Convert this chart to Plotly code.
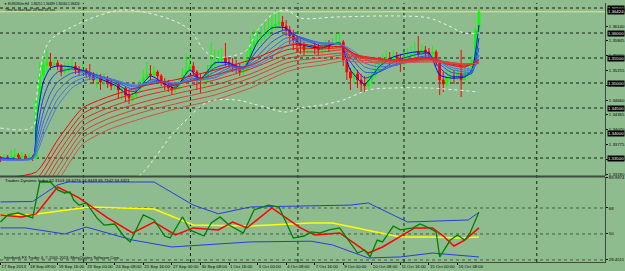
import plotly.graph_objects as go

# ---------------- data ----------------
bar_index = list(range(135))
open0 = 1.3350
close = [1.3346,1.3352,1.3348,1.3354,1.3356,1.3352,1.3354,1.3350,1.3352,1.3350,
 1.3466,1.3516,1.3536,1.3542,1.3534,1.3540,1.3534,1.3522,1.3526,1.3530,
 1.3534,1.3526,1.3522,1.3526,1.3518,1.3514,1.3506,1.3510,1.3502,1.3506,
 1.3498,1.3494,1.3498,1.3486,1.3490,1.3476,1.3470,1.3474,1.3486,1.3496,
 1.3510,1.3518,1.3516,1.3522,1.3514,1.3502,1.3496,1.3490,1.3486,1.3490,
 1.3502,1.3516,1.3526,1.3534,1.3522,1.3510,1.3506,1.3510,1.3522,1.3536,
 1.3542,1.3546,1.3550,1.3542,1.3538,1.3534,1.3530,1.3522,1.3526,1.3546,
 1.3570,1.3582,1.3586,1.3594,1.3598,1.3606,1.3614,1.3618,1.3622,1.3614,
 1.3606,1.3594,1.3586,1.3578,1.3574,1.3566,1.3570,1.3574,1.3570,1.3566,
 1.3570,1.3574,1.3572,1.3574,1.3578,1.3582,1.3546,1.3522,1.3510,1.3518,
 1.3506,1.3498,1.3494,1.3506,1.3516,1.3526,1.3536,1.3546,1.3550,1.3546,
 1.3554,1.3550,1.3538,1.3550,1.3554,1.3558,1.3562,1.3558,1.3566,1.3562,
 1.3558,1.3562,1.3542,1.3506,1.3498,1.3510,1.3514,1.3510,1.3518,1.3506,
 1.3518,1.3522,1.3546,1.3606,1.3642]
high = [1.3354,1.3358,1.3356,1.3366,1.3370,1.3360,1.3362,1.3358,1.3360,1.3356,
 1.3470,1.3542,1.3556,1.3566,1.3560,1.3550,1.3546,1.3538,1.3542,1.3542,
 1.3550,1.3542,1.3534,1.3538,1.3530,1.3538,1.3522,1.3522,1.3518,1.3520,
 1.3514,1.3506,1.3506,1.3502,1.3502,1.3494,1.3486,1.3482,1.3490,1.3506,
 1.3526,1.3542,1.3536,1.3534,1.3526,1.3518,1.3510,1.3506,1.3498,1.3498,
 1.3510,1.3530,1.3556,1.3554,1.3542,1.3526,1.3518,1.3522,1.3536,1.3582,
 1.3566,1.3566,1.3570,1.3580,1.3554,1.3550,1.3546,1.3538,1.3542,1.3566,
 1.3594,1.3606,1.3610,1.3614,1.3622,1.3630,1.3638,1.3646,1.3642,1.3634,
 1.3626,1.3614,1.3606,1.3594,1.3590,1.3582,1.3582,1.3586,1.3582,1.3578,
 1.3582,1.3586,1.3586,1.3590,1.3598,1.3602,1.3586,1.3550,1.3530,1.3534,
 1.3526,1.3518,1.3514,1.3518,1.3526,1.3538,1.3550,1.3558,1.3566,1.3562,
 1.3566,1.3562,1.3558,1.3562,1.3570,1.3574,1.3582,1.3594,1.3578,1.3574,
 1.3570,1.3574,1.3566,1.3546,1.3522,1.3526,1.3530,1.3526,1.3530,1.3566,
 1.3534,1.3538,1.3554,1.3610,1.3648]
low = [1.3342,1.3344,1.3344,1.3346,1.3350,1.3348,1.3348,1.3346,1.3346,1.3344,
 1.3346,1.3462,1.3506,1.3522,1.3526,1.3526,1.3526,1.3514,1.3518,1.3522,
 1.3526,1.3518,1.3514,1.3514,1.3510,1.3506,1.3498,1.3490,1.3486,1.3494,
 1.3490,1.3486,1.3486,1.3470,1.3466,1.3462,1.3458,1.3462,1.3470,1.3482,
 1.3490,1.3506,1.3506,1.3510,1.3506,1.3494,1.3486,1.3482,1.3476,1.3482,
 1.3486,1.3498,1.3514,1.3522,1.3514,1.3486,1.3480,1.3490,1.3502,1.3516,
 1.3530,1.3534,1.3538,1.3534,1.3530,1.3522,1.3518,1.3514,1.3514,1.3522,
 1.3546,1.3566,1.3574,1.3578,1.3586,1.3594,1.3602,1.3606,1.3610,1.3606,
 1.3594,1.3578,1.3566,1.3562,1.3558,1.3554,1.3558,1.3562,1.3558,1.3554,
 1.3558,1.3562,1.3562,1.3566,1.3570,1.3574,1.3534,1.3506,1.3486,1.3498,
 1.3490,1.3482,1.3482,1.3486,1.3498,1.3510,1.3522,1.3530,1.3538,1.3538,
 1.3542,1.3534,1.3522,1.3534,1.3542,1.3546,1.3550,1.3550,1.3554,1.3550,
 1.3546,1.3550,1.3534,1.3476,1.3482,1.3494,1.3502,1.3498,1.3506,1.3472,
 1.3506,1.3510,1.3514,1.3542,1.3602]
open_ = [open0] + close[:-1]

# short (blue) moving-average ribbon, read at sample bars
blue_bars = [0, 9, 10, 11, 12, 14, 16, 20, 24, 28, 32, 36, 38, 42, 46, 49, 53, 56, 60,
             64, 68, 72, 76, 80, 84, 90, 95, 98, 102, 106, 110, 116, 120, 123, 126, 130, 132, 134]
blue_1 = [1.3350,1.3350,1.3416,1.3466,1.3502,1.3530,1.3534,1.3532,1.3522,1.3508,1.3496,1.3476,1.3482,1.3514,1.3498,1.3490,1.3526,1.3508,1.3540,
          1.3540,1.3528,1.3582,1.3610,1.3610,1.3578,1.3570,1.3580,1.3526,1.3498,1.3532,1.3552,1.3562,1.3560,1.3516,1.3510,1.3512,1.3526,1.3616]
blue_2 = [1.3350,1.3350,1.3396,1.3436,1.3470,1.3506,1.3522,1.3528,1.3524,1.3512,1.3500,1.3484,1.3484,1.3506,1.3502,1.3494,1.3516,1.3510,1.3530,
          1.3538,1.3532,1.3566,1.3596,1.3606,1.3590,1.3574,1.3578,1.3542,1.3510,1.3522,1.3542,1.3556,1.3558,1.3530,1.3514,1.3514,1.3520,1.3590]
blue_3 = [1.3348,1.3350,1.3382,1.3412,1.3442,1.3480,1.3502,1.3520,1.3522,1.3514,1.3504,1.3490,1.3488,1.3502,1.3502,1.3496,1.3510,1.3508,1.3522,
          1.3534,1.3532,1.3554,1.3582,1.3598,1.3592,1.3578,1.3578,1.3552,1.3522,1.3522,1.3536,1.3550,1.3554,1.3538,1.3522,1.3518,1.3520,1.3570]
blue_4 = [1.3348,1.3350,1.3372,1.3396,1.3422,1.3458,1.3484,1.3510,1.3518,1.3514,1.3506,1.3494,1.3492,1.3500,1.3502,1.3498,1.3506,1.3508,1.3516,
          1.3530,1.3532,1.3546,1.3570,1.3590,1.3590,1.3580,1.3578,1.3560,1.3532,1.3526,1.3534,1.3546,1.3552,1.3542,1.3528,1.3522,1.3522,1.3556]
blue_5 = [1.3346,1.3348,1.3364,1.3384,1.3406,1.3440,1.3468,1.3500,1.3512,1.3512,1.3506,1.3496,1.3494,1.3500,1.3502,1.3500,1.3504,1.3506,1.3512,
          1.3526,1.3530,1.3540,1.3560,1.3582,1.3586,1.3580,1.3578,1.3564,1.3540,1.3532,1.3536,1.3544,1.3550,1.3544,1.3532,1.3526,1.3526,1.3548]
blue_6 = [1.3346,1.3348,1.3358,1.3374,1.3394,1.3426,1.3454,1.3490,1.3506,1.3510,1.3506,1.3498,1.3496,1.3500,1.3502,1.3500,1.3504,1.3506,1.3510,
          1.3522,1.3528,1.3536,1.3552,1.3574,1.3582,1.3580,1.3578,1.3568,1.3548,1.3538,1.3540,1.3544,1.3548,1.3546,1.3536,1.3530,1.3528,1.3542]

# long (red) moving-average ribbon
red_bars = [0, 10, 16, 23, 30, 40, 50, 60, 70, 80, 84, 90, 96, 100, 110, 120, 125, 130, 134]
red_1 = [1.3310,1.3322,1.3386,1.3450,1.3472,1.3494,1.3508,1.3526,1.3546,1.3574,1.3578,1.3572,1.3572,1.3554,1.3544,1.3550,1.3538,1.3532,1.3546]
red_2 = [1.3294,1.3308,1.3372,1.3438,1.3462,1.3484,1.3498,1.3516,1.3536,1.3566,1.3570,1.3568,1.3570,1.3556,1.3546,1.3550,1.3540,1.3534,1.3542]
red_3 = [1.3278,1.3294,1.3358,1.3426,1.3450,1.3474,1.3490,1.3506,1.3528,1.3556,1.3562,1.3562,1.3566,1.3554,1.3546,1.3548,1.3540,1.3536,1.3540]
red_4 = [1.3262,1.3280,1.3344,1.3414,1.3440,1.3462,1.3480,1.3496,1.3518,1.3548,1.3554,1.3556,1.3560,1.3552,1.3546,1.3548,1.3542,1.3536,1.3540]
red_5 = [1.3246,1.3266,1.3330,1.3402,1.3428,1.3452,1.3470,1.3486,1.3510,1.3540,1.3546,1.3550,1.3556,1.3550,1.3544,1.3546,1.3542,1.3538,1.3540]
red_6 = [1.3230,1.3252,1.3316,1.3390,1.3418,1.3442,1.3460,1.3476,1.3500,1.3530,1.3538,1.3544,1.3550,1.3546,1.3542,1.3544,1.3542,1.3538,1.3540]
red_7 = [1.3214,1.3238,1.3302,1.3378,1.3406,1.3430,1.3450,1.3466,1.3490,1.3522,1.3530,1.3536,1.3544,1.3542,1.3540,1.3542,1.3540,1.3538,1.3540]

# Bollinger bands (white dotted)
bb_up_bars = [0, 9, 10, 12, 14, 20, 28, 34, 40, 48, 53, 57, 60, 66, 69, 72, 76, 80, 84, 94, 112, 120, 125, 130, 134]
bb_up = [1.3410,1.3412,1.3466,1.3556,1.3586,1.3612,1.3636,1.3646,1.3642,1.3626,1.3606,1.3566,1.3552,1.3556,1.3566,1.3606,1.3636,1.3646,1.3630,1.3632,1.3634,1.3630,1.3616,1.3600,1.3600]
bb_lo_bars = [36, 40, 48, 52, 58, 66, 72, 80, 84, 90, 96, 103, 110, 120, 134]
bb_lo = [1.3300,1.3322,1.3396,1.3426,1.3462,1.3466,1.3456,1.3442,1.3450,1.3456,1.3466,1.3486,1.3490,1.3490,1.3482]

# Traders Dynamic Index
tdi_up_bars = [0, 9, 16, 19, 43, 54, 61, 70, 87, 98, 103, 114, 131, 134]
tdi_up = [72.2, 72.5, 84.0, 86.0, 86.0, 70.0, 64.0, 68.7, 69.5, 70.0, 71.5, 58.3, 59.7, 65.0]
tdi_lo_bars = [0, 7, 18, 24, 37, 48, 70, 87, 93, 103, 112, 121, 134]
tdi_lo = [54.2, 54.2, 50.0, 54.8, 45.8, 41.0, 44.5, 45.0, 42.4, 33.4, 34.1, 36.8, 34.1]
tdi_yel_bars = [0, 9, 25, 43, 54, 70, 87, 93, 112, 121, 128, 134]
tdi_yel = [63.2, 63.5, 68.7, 67.3, 56.2, 55.5, 57.6, 57.6, 47.9, 47.9, 47.2, 47.9]
tdi_red_bars = [0, 6, 10, 16, 22, 30, 37, 43, 49, 54, 61, 65, 69, 76, 84, 88, 95, 103, 107, 112, 116, 121, 124, 127, 130, 134]
tdi_red = [63.2, 61.8, 63.9, 82.5, 75.0, 61.1, 50.7, 58.3, 49.3, 54.2, 52.8, 58.3, 54.2, 68.0, 54.2, 49.3, 50.7, 36.8, 41.0, 48.6, 54.2, 54.2, 48.6, 41.7, 45.8, 54.2]
tdi_grn_bars = [0, 2, 5, 9, 11, 14, 16, 18, 19.5, 20.5, 22, 24, 27, 29, 32, 34.5, 36.3, 38, 40, 43, 46, 47.5, 51, 53, 57, 59, 61.5, 64, 68, 71, 75, 78, 82, 85,
                87, 89.5, 92, 95, 97, 100, 102, 103.5, 105.5, 107, 110, 112, 115.5, 117.5, 120, 122, 123, 126, 128, 130, 131.5, 134]
tdi_grn = [58.3, 63.2, 64.5, 61.1, 86.0, 86.0, 80.5, 78.4, 79.1, 73.5, 70.0, 71.5, 61.1, 56.2, 56.9, 48.6, 44.5, 52.8, 63.2, 59.7, 48.6, 47.2, 61.8, 52.8, 48.6, 57.6, 61.8, 56.2, 50.7, 66.6, 70.0, 68.7, 47.2, 48.6,
           51.4, 50.7, 52.8, 54.2, 47.2, 36.8, 38.9, 34.1, 45.8, 44.5, 55.5, 52.8, 54.2, 56.9, 54.2, 51.4, 34.1, 45.8, 49.3, 45.8, 50.7, 65.2]

price_ticks = [1.36140, 1.35845, 1.35550, 1.35255, 1.34960, 1.34660, 1.34365, 1.34070, 1.33775, 1.33480, 1.33180]
level_lines = [1.36500, 1.36000, 1.35500, 1.35000, 1.34500, 1.34000, 1.33500]
bid_price = 1.36424
tdi_levels = [68, 50, 32]
tdi_tick_vals = [89.4, 68, 50, 32]
tdi_tick_text = ["89.9974", "68", "50", "28.4511"]
time_tick_bars = [0, 8, 16, 24, 32, 40, 48, 56, 64, 72, 80, 88, 96, 104, 112, 120, 128]
time_tick_text = ["17 Sep 2013", "18 Sep 08:00", "19 Sep 16:00", "23 Sep 00:00", "24 Sep 08:00", "25 Sep 16:00",
                  "27 Sep 00:00", "30 Sep 08:00", "1 Oct 16:00", "3 Oct 00:00", "4 Oct 08:00", "7 Oct 16:00",
                  "9 Oct 00:00", "10 Oct 08:00", "11 Oct 16:00", "15 Oct 00:00", "16 Oct 08:00"]
separator_bars = [23.2, 53.2, 83.3, 113.0, 150.2]

# ---------------- layout helpers ----------------
W, H = 625, 271
ML, MR, MT, MB = 0, 20, 3, 9
PW, PH = W - ML - MR, H - MT - MB
def fx(px):
    return (px - ML) / PW
def fy(py):
    return (H - MB - py) / PH

BG = "rgb(143,188,143)"
FONT = "Liberation Sans, Arial, sans-serif"
AXF = dict(size=4.3, color="black", family=FONT)

fig = go.Figure()

fig.add_trace(go.Candlestick(
    x=bar_index, open=open_, high=high, low=low, close=close,
    increasing=dict(line=dict(color="#00ff00", width=1), fillcolor="#00ff00"),
    decreasing=dict(line=dict(color="#ff0000", width=1), fillcolor="#ff0000"),
    whiskerwidth=0, xaxis="x", yaxis="y", showlegend=False, hoverinfo="skip"))

blue_cols = ["rgb(0,0,255)", "rgb(30,50,240)", "rgb(50,80,230)", "rgb(60,100,225)", "rgb(70,110,220)", "rgb(80,120,215)"]
for col, ys in zip(blue_cols, [blue_1, blue_2, blue_3, blue_4, blue_5, blue_6]):
    fig.add_trace(go.Scatter(x=blue_bars, y=ys, mode="lines", line=dict(color=col, width=1, shape="spline", smoothing=0.6),
                             xaxis="x", yaxis="y", showlegend=False, hoverinfo="skip"))
red_cols = ["rgb(255,0,0)", "rgb(240,20,20)", "rgb(230,40,30)", "rgb(225,50,40)", "rgb(220,60,50)", "rgb(215,70,60)", "rgb(210,80,70)"]
for col, ys in zip(red_cols, [red_1, red_2, red_3, red_4, red_5, red_6, red_7]):
    fig.add_trace(go.Scatter(x=red_bars, y=ys, mode="lines", line=dict(color=col, width=1, shape="spline", smoothing=0.6),
                             xaxis="x", yaxis="y", showlegend=False, hoverinfo="skip"))
fig.add_trace(go.Scatter(x=bb_up_bars, y=bb_up, mode="lines", line=dict(color="rgb(235,240,235)", width=1, dash="dot", shape="spline"),
                         xaxis="x", yaxis="y", showlegend=False, hoverinfo="skip"))
fig.add_trace(go.Scatter(x=bb_lo_bars, y=bb_lo, mode="lines", line=dict(color="rgb(235,240,235)", width=1, dash="dot", shape="spline"),
                         xaxis="x", yaxis="y", showlegend=False, hoverinfo="skip"))

# TDI
for xs, ys, col, w in [(tdi_up_bars, tdi_up, "rgb(40,60,220)", 1), (tdi_lo_bars, tdi_lo, "rgb(40,60,220)", 1),
                       (tdi_yel_bars, tdi_yel, "rgb(255,255,0)", 1.5), (tdi_red_bars, tdi_red, "rgb(255,0,0)", 1.5),
                       (tdi_grn_bars, tdi_grn, "rgb(0,128,0)", 1.3)]:
    fig.add_trace(go.Scatter(x=xs, y=ys, mode="lines", line=dict(color=col, width=w),
                             xaxis="x", yaxis="y2", showlegend=False, hoverinfo="skip"))

shapes = []
for lv in level_lines:
    shapes.append(dict(type="line", xref="paper", x0=0, x1=1, yref="y", y0=lv, y1=lv,
                       line=dict(color="rgb(20,30,20)", width=1, dash="dot"), layer="below"))
shapes.append(dict(type="line", xref="paper", x0=0, x1=1, yref="y", y0=bid_price, y1=bid_price,
                   line=dict(color="rgb(225,230,150)", width=1), layer="below"))
for lv in tdi_levels:
    shapes.append(dict(type="line", xref="paper", x0=0, x1=1, yref="y2", y0=lv, y1=lv,
                       line=dict(color="rgb(70,90,70)", width=1, dash="dot"), layer="below"))
for sb in separator_bars:
    shapes.append(dict(type="line", xref="x", x0=sb, x1=sb, yref="paper", y0=0, y1=1,
                       line=dict(color="rgb(20,30,20)", width=1, dash="dot"), layer="below"))
shapes.append(dict(type="line", xref="paper", x0=0, x1=1, yref="paper", y0=fy(176.5), y1=fy(176.5),
                   line=dict(color="rgb(60,75,60)", width=2)))

annotations = [
    dict(text="▼ EURUSDm,H4  1.36251 1.36489 1.36160 1.36424", x=fx(2), y=fy(4.5), xref="paper", yref="paper",
         xanchor="left", yanchor="middle", showarrow=False, font=dict(size=3.2, color="black", family=FONT)),
    dict(text="Time to next bar: 28 min 58 sec", x=fx(3), y=fy(10), xref="paper", yref="paper",
         xanchor="left", yanchor="middle", showarrow=False, font=dict(size=3.6, color="black", family=FONT)),
    dict(text="Traders Dynamic Index 62.3103 48.6276 34.9449 65.7342 53.3321", x=fx(3), y=fy(180.5), xref="paper", yref="paper",
         xanchor="left", yanchor="middle", showarrow=False, font=dict(size=4.2, color="black", family=FONT)),
    dict(text="Interbank FX Trader 4, © 2001-2013, MetaQuotes Software Corp.", x=fx(2), y=fy(257.5), xref="paper", yref="paper",
         xanchor="left", yanchor="middle", showarrow=False, font=dict(size=4.0, color="black", family=FONT)),
]
for lv in level_lines + [bid_price]:
    annotations.append(dict(text=f"{lv:.5f}", x=1.0, y=lv, xref="paper", yref="y", xanchor="left", yanchor="middle",
                            xshift=2, showarrow=False, bgcolor="black", borderpad=0,
                            font=dict(size=4.3, color="white", family=FONT)))

fig.update_layout(
    width=W, height=H, margin=dict(l=ML, r=MR, t=MT, b=MB, autoexpand=False),
    paper_bgcolor=BG, plot_bgcolor=BG, showlegend=False,
    shapes=shapes, annotations=annotations,
    xaxis=dict(range=[-0.14, 169.3], anchor="y2", showgrid=False, zeroline=False, rangeslider=dict(visible=False),
               tickvals=time_tick_bars, ticktext=time_tick_text, ticks="outside", ticklen=2, tickcolor="black",
               tickangle=0, automargin=False,
               ticklabelposition="outside right", tickfont=AXF,
               showline=True, linecolor="rgb(60,75,60)"),
    yaxis=dict(domain=[fy(176), 1], range=[1.3314, 1.3660], side="right", showgrid=False, zeroline=False,
               tickvals=price_ticks, ticktext=[f"{v:.5f}" for v in price_ticks], ticks="outside", ticklen=2,
               tickcolor="black", tickfont=AXF, automargin=False,
               showline=True, linecolor="rgb(60,75,60)", mirror=False),
    yaxis2=dict(domain=[0, fy(177)], range=[30.6, 89.46], side="right", showgrid=False, zeroline=False,
                tickvals=tdi_tick_vals, ticktext=tdi_tick_text, ticks="outside", ticklen=2,
                tickcolor="black", tickfont=AXF, automargin=False,
                showline=True, linecolor="rgb(60,75,60)"),
)

fig.write_html("out.html")
